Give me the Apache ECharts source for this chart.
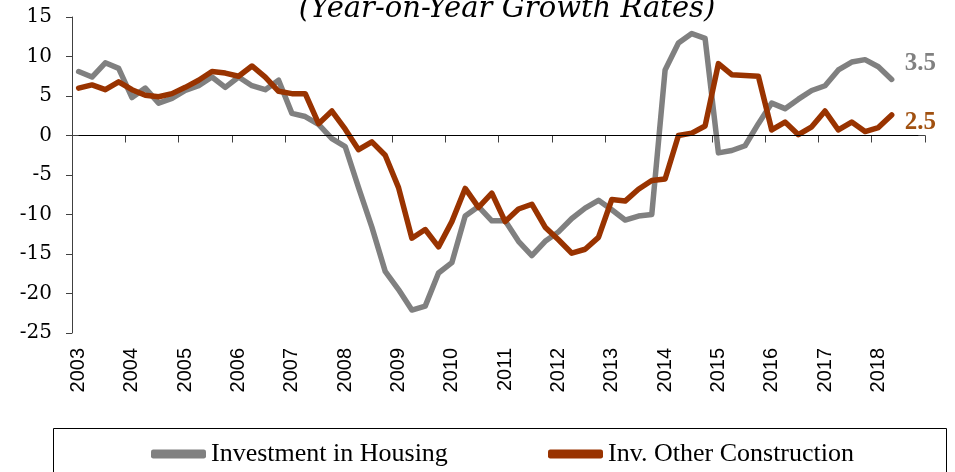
<!DOCTYPE html>
<html><head><meta charset="utf-8">
<script src="https://cdn.jsdelivr.net/npm/echarts@6/dist/echarts.min.js"></script>
<style>html,body{margin:0;padding:0;background:#fff}#c{width:955px;height:472px}</style>
</head><body><div id="c"></div>
<script>
const titleText = '(Year-on-Year Growth Rates)';
const years = ['2003','2004','2005','2006','2007','2008','2009','2010','2011','2012','2013','2014','2015','2016','2017','2018'];
const quarters = ['Q1','Q2','Q3','Q4'];
const seriesNames = ['Investment in Housing', 'Inv. Other Construction'];
const endLabels = ['3.5', '2.5'];
const yMin = -25, yMax = 15, yStep = 5;

// quarterly values, 2003Q1 - 2018Q2
const housing = [
  8.1, 7.4, 9.2, 8.5,
  4.8, 6.0, 4.1, 4.7,
  5.7, 6.3, 7.4, 6.1,
  7.4, 6.3, 5.8, 7.0,
  2.8, 2.4, 1.4, -0.4,
  -1.4, -6.6, -11.6, -17.2,
  -19.5, -22.1, -21.6, -17.4,
  -16.1, -10.2, -9.0, -10.8,
  -10.8, -13.4, -15.2, -13.4,
  -12.2, -10.5, -9.2, -8.2,
  -9.4, -10.7, -10.2, -10.0,
  8.3, 11.7, 12.9, 12.3,
  -2.2, -1.9, -1.3, 1.5,
  4.1, 3.4, 4.6, 5.7,
  6.3, 8.3, 9.3, 9.6,
  8.7, 7.1
];
const otherConstruction = [
  6.0, 6.4, 5.8, 6.8,
  5.8, 5.1, 4.9, 5.3,
  6.1, 7.0, 8.1, 7.9,
  7.5, 8.8, 7.4, 5.6,
  5.3, 5.3, 1.5, 3.1,
  0.8, -1.8, -0.8, -2.5,
  -6.6, -13.0, -11.9, -14.1,
  -10.9, -6.7, -9.1, -7.3,
  -10.9, -9.3, -8.7, -11.6,
  -13.2, -14.9, -14.4, -12.9,
  -8.1, -8.3, -6.8, -5.7,
  -5.5, 0.0, 0.3, 1.2,
  9.1, 7.7, 7.6, 7.5,
  0.7, 1.7, 0.1, 1.1,
  3.1, 0.7, 1.7, 0.5,
  1.0, 2.6
];

const categories = [];
years.forEach(y => quarters.forEach(q => categories.push(y + q)));

const GRAY = '#808080', BROWN = '#993300';
const chart = echarts.init(document.getElementById('c'), null, {renderer: 'canvas'});
chart.setOption({
  animation: false,
  backgroundColor: '#fff',
  grid: {left: 72, right: 30, top: 17, bottom: 139, containLabel: false},
  xAxis: {
    type: 'category', data: categories, boundaryGap: true,
    axisLine: {show: true, lineStyle: {color: '#404040', width: 1}},
    axisTick: {show: true, interval: 3, length: 7, lineStyle: {color: '#404040'}},
    axisLabel: {interval: 3, rotate: 90, margin: 15, formatter: v => v.slice(0, 4),
      fontFamily: 'Liberation Sans', fontSize: 20, color: '#000'},
    splitLine: {show: false}
  },
  yAxis: {
    type: 'value', min: yMin, max: yMax, interval: yStep,
    axisLine: {show: true, lineStyle: {color: '#404040', width: 1}},
    axisTick: {show: true, length: 6, lineStyle: {color: '#404040'}},
    axisLabel: {fontFamily: 'DejaVu Serif', fontSize: 20, color: '#000', margin: 20},
    splitLine: {show: false}
  },
  legend: [
    {data: [seriesNames[0]], left: 146, top: 436, itemWidth: 55, itemHeight: 9, icon: 'roundRect',
     textStyle: {fontFamily: 'Liberation Serif', fontSize: 26, color: '#000'}},
    {data: [seriesNames[1]], left: 543, top: 436, itemWidth: 55, itemHeight: 9, icon: 'roundRect',
     textStyle: {fontFamily: 'Liberation Serif', fontSize: 26, color: '#000'}}
  ],
  graphic: [
    {type: 'rect', silent: true, shape: {x: 53.5, y: 428.5, width: 893, height: 60},
     style: {fill: 'none', stroke: '#000', lineWidth: 1}},
    {type: 'text', silent: true, x: 507, y: -5,
     style: {text: titleText, font: 'italic 29px "DejaVu Serif"', fill: '#000',
       textAlign: 'center', textVerticalAlign: 'top', align: 'center', verticalAlign: 'top'}}
  ],
  series: [
    {name: seriesNames[0], type: 'line', data: housing, symbol: 'none', showSymbol: false,
     lineStyle: {color: GRAY, width: 5.5, cap: 'round', join: 'round'}, itemStyle: {color: GRAY},
     endLabel: {show: true, formatter: endLabels[0], offset: [5, -16], fontFamily: 'Liberation Serif',
       fontWeight: 'bold', fontSize: 25, color: GRAY},
     markLine: {silent: true, symbol: 'none', label: {show: false},
       lineStyle: {color: '#000', width: 1, type: 'solid'},
       data: [[{coord: [categories[0], 0]}, {coord: [categories[categories.length - 1], 0]}]]},
     z: 2},
    {name: seriesNames[1], type: 'line', data: otherConstruction, symbol: 'none', showSymbol: false,
     lineStyle: {color: BROWN, width: 5.5, cap: 'round', join: 'round'}, itemStyle: {color: BROWN},
     endLabel: {show: true, formatter: endLabels[1], offset: [5, 8], fontFamily: 'Liberation Serif',
       fontWeight: 'bold', fontSize: 25, color: '#A0500F'},
     z: 3}
  ]
});
</script>
</body></html>
